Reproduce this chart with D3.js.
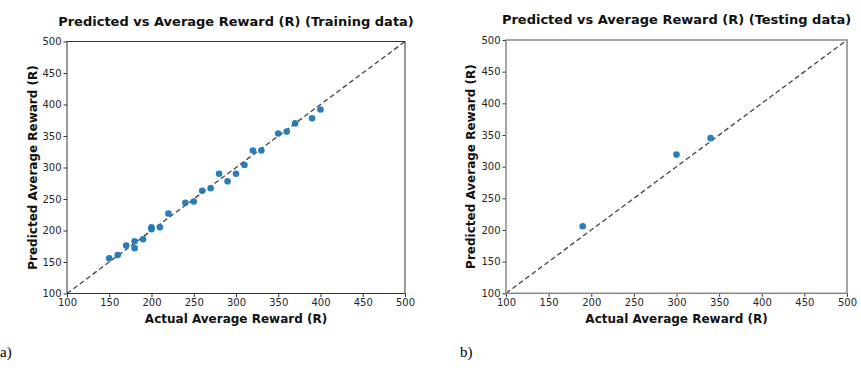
<!DOCTYPE html>
<html>
<head>
<meta charset="utf-8">
<script src="https://cdn.jsdelivr.net/npm/d3@7"></script>
<style>
  body { margin: 0; background: #fff; }
  svg { display: block; }
</style>
</head>
<body>
<div id="chart"></div>
<script>
// training data (actual vs predicted)
const trainActual = [150, 160, 170, 180, 180, 190, 200, 200, 210, 220, 240, 250, 260, 270, 280, 290, 300, 310, 320, 330, 350, 360, 370, 390, 400];
const trainPred   = [156, 161, 176, 183, 172, 186, 205, 202, 205, 227, 244, 246, 263, 267, 290, 278, 290, 304, 327, 327, 354, 357, 370, 378, 392];

// testing data
const testActual = [190, 300, 340];
const testPred   = [206, 319, 345];

const tickValues = [100, 150, 200, 250, 300, 350, 400, 450, 500];
const axisDomain = [100, 500];

const titles = ["Predicted vs Average Reward (R) (Training data)", "Predicted vs Average Reward (R) (Testing data)"];
const xLabel = "Actual Average Reward (R)";
const yLabel = "Predicted Average Reward (R)";
const panelTags = ["a)", "b)"];

const W = 861, H = 374;
const FONT = "'DejaVu Sans', sans-serif";

const svg = d3.select("#chart").append("svg")
  .attr("width", W)
  .attr("height", H)
  .attr("viewBox", `0 0 ${W} ${H}`);

const panels = [
  {box: {left: 67, right: 405, top: 41.5, bottom: 293.5}, titleY: 26, ylabX: 37, tagX: 0, spine: "#333", spineW: 1,
   xs: trainActual, ys: trainPred, title: titles[0], tag: panelTags[0]},
  {box: {left: 506, right: 847, top: 40, bottom: 293.3}, titleY: 24, ylabX: 475, tagX: 460, spine: "#888", spineW: 1.5,
   xs: testActual, ys: testPred, title: titles[1], tag: panelTags[1]}
];

const drawPanel = (p) => {
  const b = p.box;
  const x = d3.scaleLinear().domain(axisDomain).range([b.left, b.right]);
  const y = d3.scaleLinear().domain(axisDomain).range([b.bottom, b.top]);
  const g = svg.append("g");

  // x axis
  const gx = g.append("g")
    .attr("transform", `translate(0,${b.bottom})`)
    .call(d3.axisBottom(x).tickValues(tickValues).tickSize(3.5).tickPadding(2).tickFormat(d3.format("d")));
  gx.select(".domain").remove();
  gx.selectAll("line").attr("stroke", "#333");
  gx.selectAll("text").style("font-size", "10px").style("font-family", FONT).attr("fill", "#262626");

  // y axis
  const gy = g.append("g")
    .attr("transform", `translate(${b.left},0)`)
    .call(d3.axisLeft(y).tickValues(tickValues).tickSize(3.5).tickPadding(2).tickFormat(d3.format("d")));
  gy.select(".domain").remove();
  gy.selectAll("line").attr("stroke", "#333");
  gy.selectAll("text").style("font-size", "10px").style("font-family", FONT).attr("fill", "#262626");

  // identity line
  g.append("line")
    .attr("x1", x(axisDomain[0])).attr("y1", y(axisDomain[0]))
    .attr("x2", x(axisDomain[1])).attr("y2", y(axisDomain[1]))
    .attr("stroke", "#444")
    .attr("stroke-width", 1.3)
    .style("stroke-dasharray", "5 3");

  // points
  g.append("g")
    .selectAll("circle")
    .data(p.xs.map((v, i) => ({a: v, p: p.ys[i]})))
    .enter()
    .append("circle")
      .attr("cx", d => x(d.a))
      .attr("cy", d => y(d.p))
      .attr("r", 3.3)
      .attr("fill", "#1f77b4")
      .attr("fill-opacity", 0.95);

  // frame
  g.append("rect")
    .attr("x", b.left).attr("y", b.top)
    .attr("width", b.right - b.left).attr("height", b.bottom - b.top)
    .attr("fill", "none")
    .attr("stroke", p.spine)
    .attr("stroke-width", p.spineW);

  const cx = (b.left + b.right) / 2;
  g.append("text")
    .text(p.title)
    .attr("x", cx).attr("y", p.titleY)
    .style("text-anchor", "middle")
    .style("font-size", "13px")
    .style("font-weight", "bold")
    .style("font-family", FONT)
    .style("fill", "#111");

  g.append("text")
    .text(xLabel)
    .attr("x", cx).attr("y", 323)
    .style("text-anchor", "middle")
    .style("font-size", "12px")
    .style("font-weight", "bold")
    .style("font-family", FONT)
    .style("fill", "#111");

  g.append("text")
    .text(yLabel)
    .attr("transform", `translate(${p.ylabX},${(b.top + b.bottom) / 2}) rotate(-90)`)
    .style("text-anchor", "middle")
    .style("font-size", "12px")
    .style("font-weight", "bold")
    .style("font-family", FONT)
    .style("fill", "#111");

  g.append("text")
    .text(p.tag)
    .attr("x", p.tagX).attr("y", 357)
    .style("font-size", "15px")
    .style("font-family", "'Liberation Serif', serif")
    .style("fill", "#000");
};

panels.forEach(drawPanel);
</script>
</body>
</html>
